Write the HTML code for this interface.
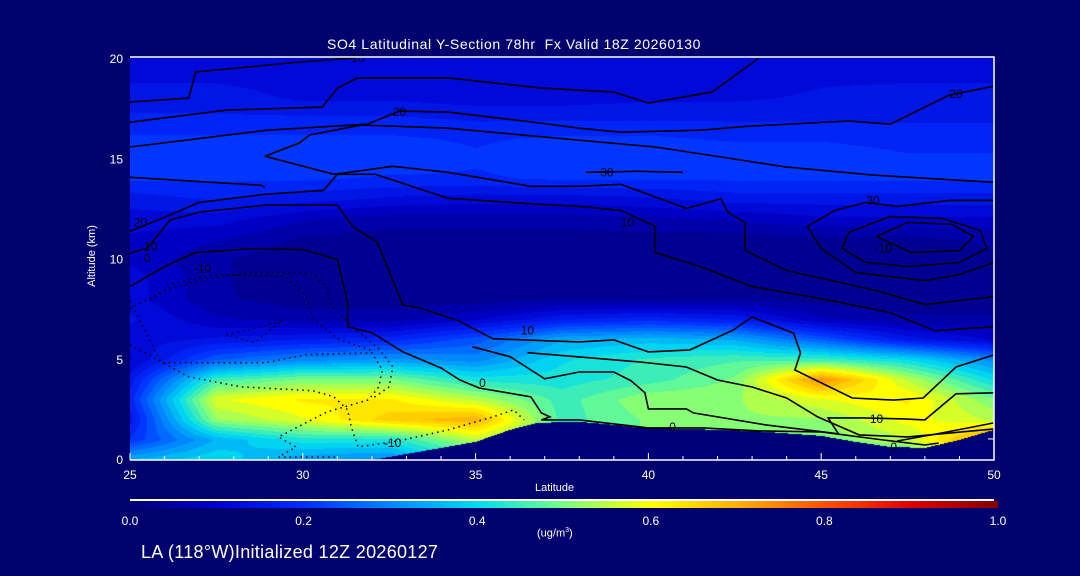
<!DOCTYPE html>
<html><head><meta charset="utf-8">
<style>
html,body{margin:0;padding:0;background:#02026e;}
#root{position:relative;width:1080px;height:576px;overflow:hidden;background:#02026e;font-family:"Liberation Sans",sans-serif;color:#fff;}
.t{position:absolute;white-space:nowrap;color:#fff;}
canvas{position:absolute;left:130px;top:58px;}
svg{position:absolute;left:0;top:0;}
</style></head>
<body>
<div id="root">
<div class="t" style="left:327px;top:36px;font-size:14px;letter-spacing:0.6px;">SO4 Latitudinal Y-Section 78hr&nbsp; Fx Valid 18Z 20260130</div>
<canvas id="field" width="864" height="402"></canvas>
<svg id="ov" width="1080" height="576"></svg>
<div class="t" style="left:52px;top:250px;font-size:11px;transform:rotate(-90deg);transform-origin:center;width:80px;text-align:center;">Altitude (km)</div>
<div class="t" style="left:535px;top:482px;font-size:11px;">Latitude</div>
<div id="cbar" style="position:absolute;left:130px;top:501px;width:868px;height:7px;"></div>
<div style="position:absolute;left:130px;top:499px;width:864px;height:2px;background:#fff;"></div>
<div class="t" style="left:537px;top:527px;font-size:11px;">(ug/m<sup style="font-size:7px">3</sup>)</div>
<div class="t" style="left:141px;top:542px;font-size:18px;letter-spacing:0.3px;">LA (118°W)Initialized 12Z 20260127</div>
</div>
<script>
// ---- data ----
const lats = [25,27.5,30,32.5,35,37.5,40,42.5,45,47.5,50];
const alts = [0,1,2,3,4,5,6,7,8,9,10,11,12,13,14,15,16,17,18,19,20];
const conc = [
 [0.35,0.4,0.32,0.3,0.45,0.4,0.45,0.45,0.45,0.45,0.55],
 [0.2,0.35,0.42,0.42,0.55,0.45,0.5,0.5,0.5,0.55,0.75],
 [0.15,0.52,0.58,0.66,0.7,0.45,0.5,0.52,0.52,0.6,0.55],
 [0.18,0.58,0.62,0.62,0.55,0.45,0.52,0.52,0.58,0.62,0.5],
 [0.15,0.45,0.5,0.5,0.42,0.42,0.45,0.5,0.74,0.55,0.4],
 [0.1,0.25,0.3,0.32,0.3,0.4,0.44,0.46,0.45,0.4,0.3],
 [0.12,0.14,0.16,0.18,0.24,0.34,0.36,0.34,0.25,0.15,0.1],
 [0.14,0.08,0.06,0.06,0.1,0.16,0.18,0.16,0.08,0.05,0.05],
 [0.12,0.05,0.03,0.03,0.03,0.04,0.04,0.04,0.03,0.03,0.03],
 [0.12,0.05,0.02,0.02,0.02,0.02,0.02,0.02,0.02,0.02,0.03],
 [0.1,0.05,0.02,0.02,0.02,0.02,0.02,0.02,0.02,0.02,0.04],
 [0.1,0.08,0.04,0.03,0.03,0.03,0.03,0.03,0.04,0.04,0.05],
 [0.12,0.12,0.08,0.06,0.06,0.06,0.07,0.08,0.1,0.1,0.1],
 [0.15,0.17,0.15,0.13,0.12,0.12,0.13,0.15,0.15,0.15,0.15],
 [0.2,0.2,0.2,0.19,0.19,0.2,0.2,0.2,0.2,0.2,0.2],
 [0.22,0.2,0.22,0.22,0.2,0.22,0.22,0.22,0.22,0.2,0.2],
 [0.2,0.2,0.2,0.2,0.19,0.2,0.2,0.19,0.19,0.18,0.18],
 [0.17,0.17,0.17,0.17,0.16,0.16,0.16,0.16,0.16,0.16,0.16],
 [0.15,0.15,0.13,0.13,0.12,0.12,0.13,0.13,0.14,0.15,0.15],
 [0.13,0.13,0.12,0.12,0.12,0.12,0.12,0.12,0.13,0.13,0.13],
 [0.12,0.12,0.12,0.12,0.12,0.12,0.12,0.12,0.12,0.12,0.12]
];
const groundLats = [25,32,33,34,35,36,36.8,38,40,42,43,45,46,47,48,49,50];
const groundAlts = [0,0,0.3,0.6,0.9,1.5,1.85,1.9,1.6,1.5,1.45,1.2,0.9,0.65,0.6,1.0,1.5];
const xTicks = [25,30,35,40,45,50];
const yTicks = [0,5,10,15,20];
const cbTicks = [0.0,0.2,0.4,0.6,0.8,1.0];
const solidContours = [
 [[25,17.8],[26.7,18.0],[26.9,19.3],[29.9,19.8],[31.5,20.0]],
 [[25,16.8],[27.8,17.4],[30.56,17.55],[31,18.5],[31.57,19.0],[34.26,19.0],[36.9,18.5],[39,18.3],[40,17.75],[41.84,18.3],[43.2,20]],
 [[25,15.56],[28.96,16.4],[31.86,16.7],[32.8,17.35],[34.2,17.3],[36.86,16.76],[38,16.5],[39.2,16.3],[41.5,16.4],[42.9,16.6],[45.8,16.86],[47,16.7],[48.7,18.15],[50,18.6]],
 [[28.9,15.1],[29.9,15.76],[30.2,16.16],[31.7,16.66],[34.2,16.5],[38,15.9],[40.2,15.56],[42.1,15.06],[44,14.56],[46.5,14.16],[50,13.8]],
 [[28.9,15.1],[30.9,14.2],[32.6,14.6],[34.2,14.3],[36.6,13.6],[38,13.6],[39.2,13.7],[41.1,12.5],[42.1,12.98],[42.3,12.3],[42.8,11.8],[42.8,10.4],[44,9.4],[46.6,8.4],[48,7.7],[50,8.1]],
 [[25,14.05],[28.8,13.65],[28.9,13.55]],
 [[38.2,14.3],[39.7,14.35],[41.0,14.3]],
 [[25,11.35],[26.2,12.2],[27,12.8],[28.9,13.2],[30.6,13.4],[31,14.2],[32.1,14.2],[34.2,13.0],[36.9,12.7],[38,12.6],[39.2,12.4],[40.2,11.6],[40.2,10.3],[41.5,9.6],[43,8.6],[45,8.0],[47,7.3],[48.3,6.4],[50,6.6]],
 [[44.6,11.6],[45.4,12.4],[46.3,12.8],[47.2,12.6],[48.7,12.9],[50,12.9]],
 [[44.6,11.6],[45,10.5],[46,9.3],[48,8.9],[49,9.2],[50,9.8]],
 [[45.8,11.3],[45.6,10.5],[46.3,9.8],[47.5,9.6],[49,9.8],[49.8,10.5],[49.6,11.4],[48.5,12.0],[47,12.1],[45.8,11.3]],
 [[46.6,11.1],[47.6,10.3],[49,10.4],[49.4,11.1],[48.8,11.7],[47.5,11.8],[46.6,11.1]],
 [[25,10.27],[25.5,10.52],[26.16,11.92],[27.03,12.32],[28.96,12.67],[31,12.67],[31.45,11.57],[32.15,10.82],[32.9,7.68],[33.4,7.53],[34.5,6.9],[35.5,6.0],[37,5.9],[38,5.84],[39,5.94],[40,5.34],[41.2,5.44],[42.45,6.43],[43,7.08],[44.2,6.28],[44.4,5.29],[44.24,4.44],[45.9,3.04],[47.1,2.94],[47.95,3.04],[48.9,4.59],[50,5.19]],
 [[25,8.6],[26,9.6],[26.9,10.3],[28.6,10.5],[30,10.45],[31,9.95],[31.3,7.8],[31.3,6.6],[32,6.3],[32.9,5.34],[34,4.54],[34.55,3.94],[35.1,3.54],[36.6,3.1],[36.9,2.3],[37.15,2.1],[36.9,1.95],[38,1.95],[40,1.55],[41.6,1.55],[43.2,1.4],[45,1.35],[46.8,0.95],[48,0.7],[48.4,0.8]],
 [[34.9,5.6],[36,5.1],[37,4.0],[38,4.34],[39,4.34],[39.5,3.9],[39.9,3.3],[40,2.5],[41.1,2.5],[41.3,2.3],[43.4,1.7],[45.3,1.3],[45.5,1.25],[45.2,2.05],[46.2,2.05],[47.4,2.0],[48,1.95],[48.9,3.25],[50,3.3]],
 [[36.5,5.3],[38,5.09],[39.76,4.84],[41.1,4.59],[42,3.94],[43,3.59],[44,3.04],[44.9,2.1],[46.1,1.2],[47.5,1.1],[50,1.5]],
 [[47.2,0.9],[48.5,1.3],[50,1.8]]
];
const dottedContours = [
 [[25,7.5],[26,8.4],[27,8.9],[28.5,9.3],[30.2,9.3],[30.7,8.6],[30.8,7.7],[31.5,6.5],[32.2,5.5],[32.6,4.6],[32.5,3.6],[32.0,3.0]],
 [[25.6,7.9],[26.3,8.8],[27.5,9.2],[29.5,9.1],[30.1,8.1],[30.3,7.0],[31,6.0],[32,5.4]],
 [[27.8,6.2],[28.8,6.6],[29.4,6.9],[28.6,5.8],[27.8,6.2]],
 [[25,5.7],[26.7,4.1],[28.2,3.6],[30.3,3.4],[30.9,3.1],[31.3,2.45],[31.4,1.6],[31.6,0.6],[32,0.7],[32.9,0.95],[34.2,1.45],[35.5,2.1],[36.1,2.45],[36.4,1.95]],
 [[25,7.9],[25.9,4.8],[28.9,4.8],[30.1,5.2],[32,5.3],[32.3,4.45],[32.2,3.6],[31.9,2.95],[30.7,2.35],[29.3,1.1],[29.8,0.6],[29.3,0.1]],
 [[29.3,0.1],[31,0.1]]
];
const contourLabels = [["10",31.6,20.0],["20",32.8,17.3],["20",48.9,18.2],["30",38.8,14.3],["10",39.4,11.8],["30",46.5,12.9],["-10",46.8,10.5],["20",25.3,11.8],["10",25.6,10.6],["-10",27.1,9.5],["10",36.5,6.4],["0",35.2,3.8],["10",46.6,2.0],["0",40.7,1.6],["0",47.1,0.6],["-10",32.6,0.8],["0",25.5,10.0]];

// ---- scales ----
const PX0=130, PX1=994, PY0=459, PY1=58;
function xs(lat){return PX0+(lat-25)/25*(PX1-PX0);}
function ys(alt){return PY0-(alt/20)*(PY0-PY1);}
const cmapV=[0,0.1,0.2,0.3,0.4,0.5,0.6,0.7,0.8,0.9,1.0];
const cmapC=[[0,0,120],[0,0,205],[0,45,255],[0,135,255],[0,220,240],[120,255,130],[255,255,0],[255,175,0],[255,80,0],[225,0,0],[130,0,0]];
function color(v){v=Math.max(0,Math.min(1,v));let i=0;while(i<cmapV.length-2&&v>cmapV[i+1])i++;const t=(v-cmapV[i])/(cmapV[i+1]-cmapV[i]);const a=cmapC[i],b=cmapC[i+1];return [a[0]+(b[0]-a[0])*t,a[1]+(b[1]-a[1])*t,a[2]+(b[2]-a[2])*t];}
function interp1(xa,ya,x){if(x<=xa[0])return ya[0];for(let i=0;i<xa.length-1;i++){if(x<=xa[i+1]){const t=(x-xa[i])/(xa[i+1]-xa[i]);return ya[i]+(ya[i+1]-ya[i])*t;}}return ya[ya.length-1];}
function field(lat,alt){
 let fi=(lat-lats[0])/(lats[1]-lats[0]); let fj=(alt-alts[0])/(alts[1]-alts[0]);
 fi=Math.max(0,Math.min(lats.length-1.0001,fi)); fj=Math.max(0,Math.min(alts.length-1.0001,fj));
 const i=Math.floor(fi),j=Math.floor(fj),u=fi-i,w=fj-j;
 return conc[j][i]*(1-u)*(1-w)+conc[j][i+1]*u*(1-w)+conc[j+1][i]*(1-u)*w+conc[j+1][i+1]*u*w;
}
// ---- field ----
const cv=document.getElementById('field');const ctx=cv.getContext('2d');
const W=cv.width,H=cv.height;const img=ctx.createImageData(W,H);
for(let py=0;py<H;py++){for(let px=0;px<W;px++){
 const lat=25+(px+0.5)/W*25, alt=20-(py+0.5)/H*20;
 let c;
 if(alt<interp1(groundLats,groundAlts,lat)) c=[0,0,120]; else c=color(Math.round(field(lat,alt)/0.03)*0.03);
 const k=(py*W+px)*4;img.data[k]=c[0];img.data[k+1]=c[1];img.data[k+2]=c[2];img.data[k+3]=255;}}
ctx.putImageData(img,0,0);

// ---- overlay ----
const NS='http://www.w3.org/2000/svg';const ov=document.getElementById('ov');
function mk(tag,attrs){const e=document.createElementNS(NS,tag);for(const k in attrs)e.setAttribute(k,attrs[k]);ov.appendChild(e);return e;}
solidContours.forEach(function(c){
 const e=mk('polyline',{points:c.map(p=>xs(p[0]).toFixed(1)+','+ys(p[1]).toFixed(1)).join(' '),fill:'none',stroke:'#000','stroke-width':1.6});
 
 
});
dottedContours.forEach(function(c){
 const e=mk('polyline',{points:c.map(p=>xs(p[0]).toFixed(1)+','+ys(p[1]).toFixed(1)).join(' '),fill:'none',stroke:'#000','stroke-width':1.5,'stroke-dasharray':'1.5 4'});
 
 
});
contourLabels.forEach(function(l){
 const e=mk('text',{x:xs(l[1]),y:ys(l[2])+4,'font-size':12,'font-family':'Liberation Sans, sans-serif',fill:'#000','text-anchor':'middle'});
 e.textContent=l[0];
 
 
});
// frame
const fr=mk('polyline',{points:PX0+','+(PY1-1)+' '+PX1+','+(PY1-1)+' '+PX1+','+(PY0+1)+' '+PX0+','+(PY0+1),fill:'none',stroke:'#fff','stroke-width':1.5});


// x ticks
for(let lat=25;lat<=50;lat++){
 const major=xTicks.indexOf(lat)>=0;
 const t=mk('line',{x1:xs(lat),x2:xs(lat),y1:PY0+1,y2:PY0+1-(major?7:4),stroke:'#fff','stroke-width':1});
 
 
}
xTicks.forEach(function(v){
 const e=mk('text',{x:xs(v),y:479,'font-size':12,fill:'#fff','text-anchor':'middle','font-family':'Liberation Sans, sans-serif'});
 e.textContent=String(v);
 
 
});
yTicks.forEach(function(v){
 const e=mk('text',{x:123,y:ys(v)+5,'font-size':12,fill:'#fff','text-anchor':'end','font-family':'Liberation Sans, sans-serif'});
 e.textContent=String(v);
 
 
});
const rt=mk('line',{x1:PX1,x2:PX1-6,y1:ys(1),y2:ys(1),stroke:'#fff','stroke-width':1});


cbTicks.forEach(function(v){
 const e=mk('text',{x:130+v*868,y:525,'font-size':12,fill:'#fff','text-anchor':'middle','font-family':'Liberation Sans, sans-serif'});
 e.textContent=v.toFixed(1);
 
 
});
// colorbar gradient
const stops=cmapV.map((v,i)=>'rgb('+cmapC[i].map(Math.round).join(',')+') '+(v*100)+'%').join(',');
document.getElementById('cbar').style.background='linear-gradient(to right,'+stops+')';
</script>
</body></html>
